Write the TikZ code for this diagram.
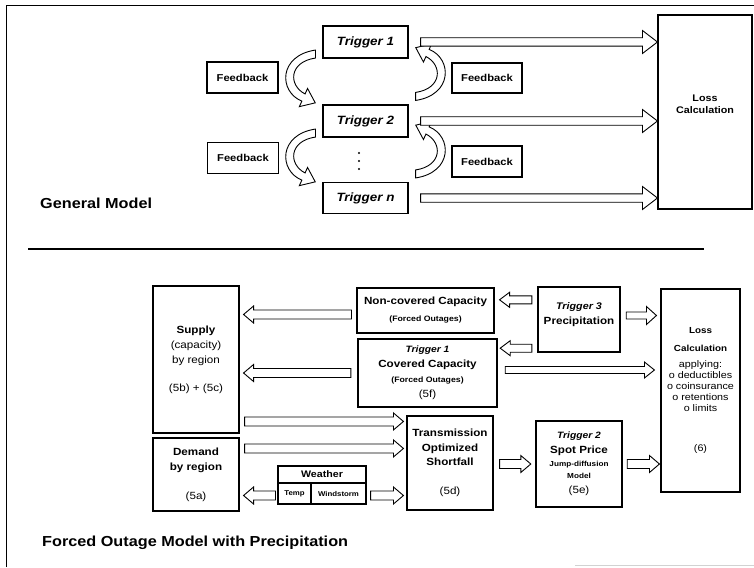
\documentclass[tikz,border=0pt]{standalone}
\usepackage{fontspec}
\setmainfont{Liberation Sans}[FakeStretch=1.12]
\usetikzlibrary{calc}
\newcommand{\fsz}[2]{\fontsize{#1}{#2}\selectfont}
\newcommand{\blockarrow}[3][4.5pt/8.5pt/10pt]{%
  \foreach \sw/\hw/\hl in {#1}{%
    \coordinate (ba) at ($(#3)!\hl!(#2)$);
    \draw[blockarrow] ([yshift=\sw]#2) -- ([yshift=\sw]ba) -- ([yshift=\hw]ba)
      -- (#3) -- ([yshift=-\hw]ba) -- ([yshift=-\sw]ba) -- ([yshift=-\sw]#2) -- cycle;
  }}
\tikzset{bentarrow/.pic={
  \draw[blockarrow] (0,4) .. controls (-27,8) and (-27,31.5) .. (-10.4,39.9)
    -- (-7.9,34.4) -- (-0.2,48.8) -- (-16.1,52.6) -- (-13.6,47.1)
    .. controls (-37,37.5) and (-37,1.5) .. (0,-4) -- cycle;
}}

\begin{document}
\begin{tikzpicture}[x=1pt, y=-1pt,
    box/.style={draw, line width=1.1pt, inner sep=1pt, align=center, font=\bfseries\fsz{10.4}{14.5}},
    thickbox/.style={box, line width=2.4pt},
    trig/.style={box, minimum width=85pt, minimum height=32pt, font=\bfseries\itshape\fsz{12}{14}},
    fb/.style={box, minimum width=71pt, minimum height=31pt, font=\bfseries\fsz{10}{12}},
    title/.style={inner sep=0pt, anchor=base west, font=\bfseries\fsz{14.5}{17}},
    blockarrow/.style={draw, fill=white, line width=0.9pt, line join=miter}]
    \useasboundingbox (0,0) rectangle (754,567);
    \draw[line width=1pt] (6,567) -- (6,6) -- (754,6);
    \draw[line width=2.2pt] (28,249) -- (704,249);
    \draw[gray!35, line width=1pt] (575,565.5) -- (754,565.5);

    \node[trig] (trigA) at (365.5,42) {Trigger 1};
    \node[trig] (trigB) at (365.5,121) {Trigger 2};
    \node[trig, minimum height=31pt] (trigN) at (365.5,198) {Trigger n};
    \foreach \dy in {-8,0,8}
        \fill (359,161+\dy) circle (1.1pt);
    \node[fb] (fbLa) at (242.5,77.5) {Feedback};
    \node[fb] (fbLb) at (243,158) {Feedback};
    \node[fb, minimum width=70pt, minimum height=30pt] (fbRa) at (487,78) {Feedback};
    \node[fb, minimum width=70pt] (fbRb) at (487,161.5) {Feedback};
    \node[box, minimum width=94pt, minimum height=194pt, font=\bfseries\fsz{9.6}{12}] (lossTop) at (705,112) {Loss\\Calculation\\[4pt]~};
    \node[title] (genTitle) at (40,208) {General Model};

    \pic at ($(trigA.south west)+(-7,-4.5)$) {bentarrow};
    \pic at ($(trigB.south west)+(-7,-4.5)$) {bentarrow};
    \pic[rotate=180] at ($(trigB.north east)+(7,-8)$) {bentarrow};
    \pic[rotate=180] at ($(trigN.north east)+(7,-8)$) {bentarrow};

    \coordinate (a1s) at ($(trigA.east)+(12,0)$);
    \coordinate (a1e) at (lossTop.west |- trigA.east);
    \coordinate (a2s) at ($(trigB.east)+(12,0)$);
    \coordinate (a2e) at (lossTop.west |- trigB.east);
    \coordinate (a3s) at ($(trigN.east)+(12,0)$);
    \coordinate (a3e) at (lossTop.west |- trigN.east);
    \blockarrow[4.2pt/11.5pt/15pt]{a1s}{a1e}
    \blockarrow[4.2pt/11.5pt/15pt]{a2s}{a2e}
    \blockarrow[4.2pt/11.5pt/15pt]{a3s}{a3e}

    \node[box, minimum width=86pt, minimum height=147pt, font=\bfseries\fsz{10.4}{15}] (supply) at (196,359.5)
        {Supply\\\mdseries(capacity)\\\mdseries by region\\[13pt]\mdseries(5b) + (5c)};
    \node[box, minimum width=86pt, minimum height=73pt, font=\bfseries\fsz{10.4}{15}] (demand) at (196,474.5)
        {Demand\\by region\\[14pt]\mdseries(5a)};
    \node[box, minimum width=137pt, minimum height=45pt, font=\bfseries\fsz{10.4}{15}] (noncov) at (425.5,310.5)
        {Non-covered Capacity\\[2pt]\fsz{7.8}{15}(Forced Outages)};
    \node[thickbox, minimum width=139pt, minimum height=68pt, font=\bfseries\fsz{10.4}{15}] (covered) at (427.5,373)
        {\itshape\fsz{9.2}{15}Trigger 1\\Covered Capacity\\\fsz{7.8}{15}(Forced Outages)\\\mdseries(5f)};
    \node[thickbox, minimum width=82pt, minimum height=65pt, font=\bfseries\fsz{10.4}{15}] (trigPrec) at (579,319.5)
        {\itshape\fsz{9.6}{15}Trigger 3\\Precipitation\\[-3pt]~};
    \node[box, minimum width=79pt, minimum height=203pt, font=\fsz{9.6}{11}] (lossBot) at (700.5,390.5)
        {\bfseries\fsz{8.8}{11}Loss\\[7pt]\bfseries\fsz{8.8}{11}Calculation\\[5pt]applying:\\o deductibles\\o coinsurance\\o retentions\\o limits\\[29pt](6)};
    \node[box, minimum width=86pt, minimum height=94pt, font=\bfseries\fsz{10.4}{14.5}] (trans) at (450,463)
        {Transmission\\Optimized\\Shortfall\\[14.5pt]\mdseries(5d)};
    \node[thickbox, minimum width=86pt, minimum height=86pt, font=\bfseries\fsz{10.4}{13}] (trigSpot) at (579,464)
        {\itshape\fsz{9.2}{13}Trigger 2\\[2pt]Spot Price\\\fsz{7.3}{13}Jump-diffusion\\[-1pt]\fsz{7.3}{13}Model\\[2pt]\mdseries(5e)};
    \node[box, minimum width=88pt, minimum height=17pt, font=\bfseries\fsz{9.5}{11}] (weatherHead) at (322,474.5) {Weather};
    \node[box, minimum width=33pt, minimum height=21pt, font=\bfseries\fsz{7}{9}] (temp) at (294.5,493.5) {Temp};
    \node[box, minimum width=55pt, minimum height=21pt, font=\bfseries\fsz{7}{9}] (wind) at (338.5,493.5) {Windstorm};
    \node[title] (forcedTitle) at (42,546) {Forced Outage Model with Precipitation};

    \coordinate (b1s) at ($(noncov.west)+(-5,4)$);
    \coordinate (b1e) at ($(supply.east |- noncov.west)+(4,4)$);
    \coordinate (b2s) at ($(covered.west)+(-6,0)$);
    \coordinate (b2e) at ($(supply.east |- covered.west)+(4,0)$);
    \coordinate (b3s) at ($(supply.east |- trans.north)+(5,6)$);
    \coordinate (b3e) at ($(trans.north west)+(-3,6)$);
    \coordinate (b4s) at ($(demand.north east)+(5,11)$);
    \coordinate (b4e) at ($(trans.west |- demand.north)+(-3,11)$);
    \coordinate (b5s) at ($(temp.west)+(-2,2)$);
    \coordinate (b5e) at ($(demand.east |- temp.west)+(4,2)$);
    \coordinate (b6s) at ($(wind.east)+(4,2)$);
    \coordinate (b6e) at ($(trans.west |- wind.east)+(-3,2)$);
    \coordinate (b7s) at ($(trigPrec.north west)+(-5,14)$);
    \coordinate (b7e) at ($(noncov.east |- trigPrec.north)+(5,14)$);
    \coordinate (b8s) at ($(trigPrec.south west)+(-5,-5)$);
    \coordinate (b8e) at ($(covered.east |- trigPrec.south)+(2,-5)$);
    \coordinate (b9s) at ($(trigPrec.east)+(5,-4)$);
    \coordinate (b9e) at ($(lossBot.west |- trigPrec.east)+(-4,-4)$);
    \coordinate (b10s) at ($(covered.east)+(7,-3)$);
    \coordinate (b10e) at ($(lossBot.west |- covered.east)+(-6,-3)$);
    \coordinate (b11s) at ($(trans.east)+(6,1)$);
    \coordinate (b11e) at ($(trigSpot.west |- trans.east)+(-4,1)$);
    \coordinate (b12s) at ($(trigSpot.east)+(4,0)$);
    \coordinate (b12e) at ($(lossBot.west |- trigSpot.east)+(-1,0)$);
    \blockarrow{b1s}{b1e}
    \blockarrow{b2s}{b2e}
    \blockarrow{b3s}{b3e}
    \blockarrow{b4s}{b4e}
    \blockarrow{b5s}{b5e}
    \blockarrow{b6s}{b6e}
    \blockarrow[4pt/7.5pt/10pt]{b7s}{b7e}
    \blockarrow[4pt/7.5pt/10pt]{b8s}{b8e}
    \blockarrow[3.5pt/9pt/10pt]{b9s}{b9e}
    \blockarrow[3.5pt/8pt/10pt]{b10s}{b10e}
    \blockarrow{b11s}{b11e}
    \blockarrow{b12s}{b12e}
\end{tikzpicture}
\end{document}
